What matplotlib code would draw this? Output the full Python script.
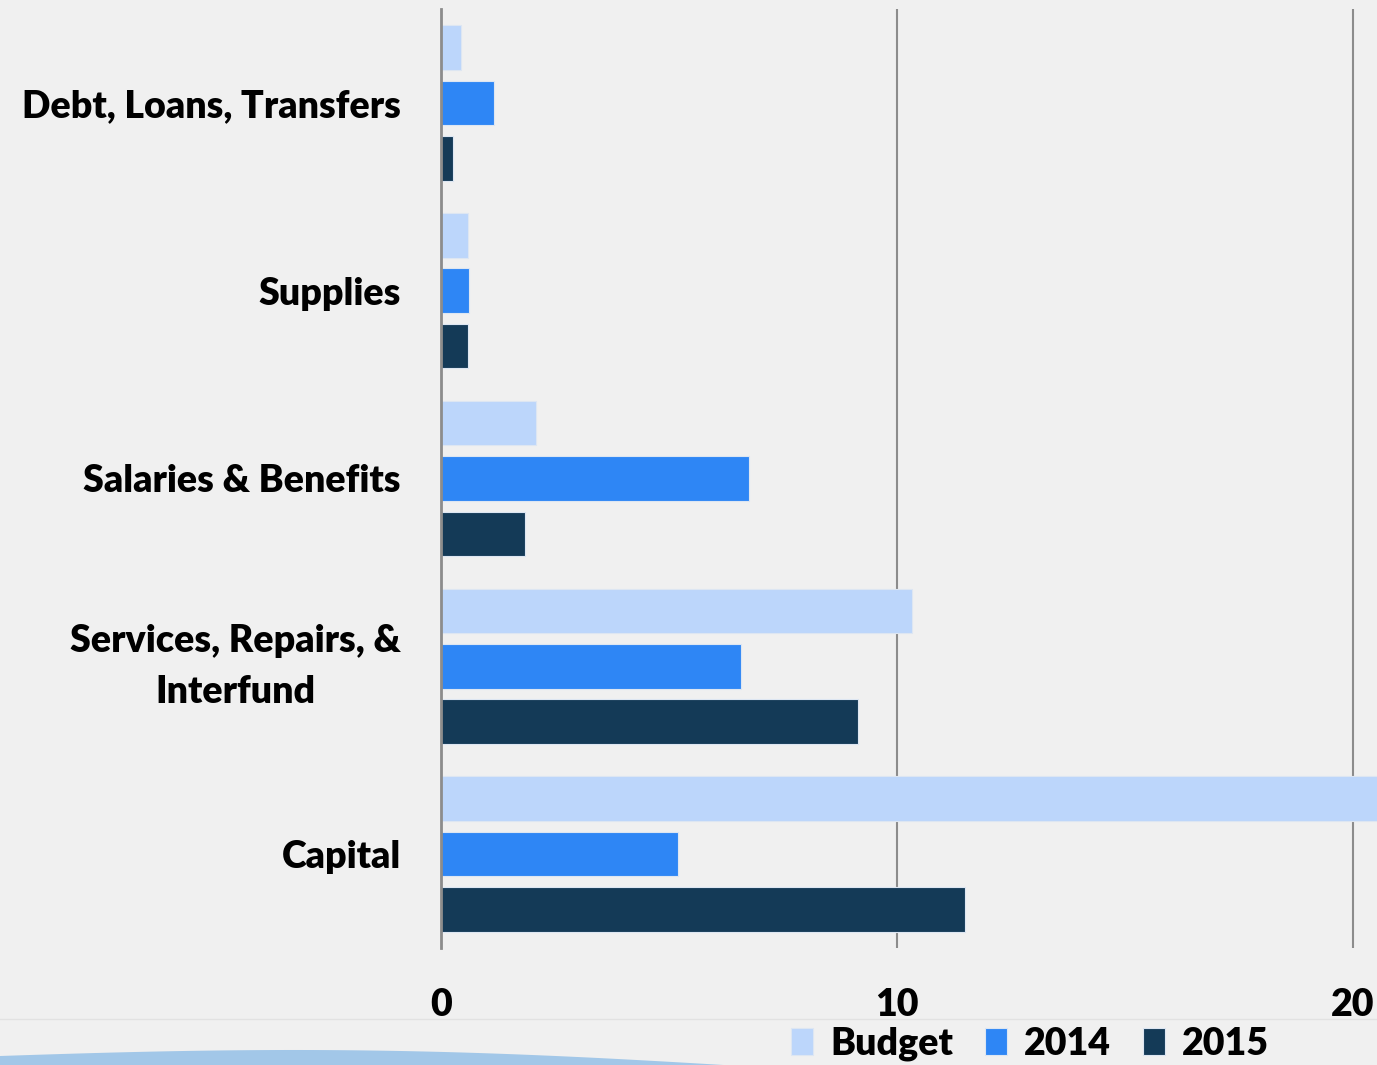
import numpy as np
import matplotlib.pyplot as plt
from matplotlib.patches import Polygon

# categories bottom to top (as drawn on the y axis)
categories = ['Capital', 'Services, Repairs, &\nInterfund', 'Salaries & Benefits',
              'Supplies', 'Debt, Loans, Transfers']
budget = [21.0, 10.33, 2.08, 0.59, 0.44]
y2014 = [5.2, 6.58, 6.75, 0.61, 1.16]
y2015 = [11.49, 9.14, 1.84, 0.59, 0.26]
series_names = ['Budget', '2014', '2015']
colors = ['#bcd6fb', '#2e86f5', '#143a57']
xticks = [0, 10, 20]

plt.rcParams['font.family'] = ['Lato', 'DejaVu Sans']

fs = 27
wt = 'heavy'
bg = '#f0f0f0'
fig = plt.figure(figsize=(13.77, 10.65), dpi=100, facecolor=bg)
ax = fig.add_axes([441 / 1377, 117 / 1065, 1 - 441 / 1377, (948 - 9) / 1065])
ax.set_facecolor(bg)

y = np.arange(len(categories))
step = 0.295
h = 0.237
for vals, off, col, name in zip([budget, y2014, y2015], [step, 0, -step], colors, series_names):
    ax.barh(y + off, vals, height=h, color=col, edgecolor='#dde6f2', linewidth=0.8,
            label=name, zorder=3)

ax.set_xlim(0, 20.53)
ax.set_ylim(-0.5, 4.5)
ax.set_xticks(xticks)
ax.set_xticklabels([str(t) for t in xticks], fontsize=fs, fontweight=wt)
ax.set_yticks(y)
ax.set_yticklabels(categories, fontsize=fs, fontweight=wt, ha='right',
                   multialignment='center', linespacing=1.6)
for lbl in ax.get_yticklabels():
    if '\n' in lbl.get_text():
        lbl.set_va('center')
ax.tick_params(axis='y', length=0, pad=29)
ax.tick_params(axis='x', length=0, pad=29)
ax.grid(axis='x', color='#8c8c8c', linewidth=1.5, zorder=1)
for s in ['top', 'right', 'bottom']:
    ax.spines[s].set_visible(False)
ax.spines['left'].set_color('#8c8c8c')
ax.spines['left'].set_linewidth(2)
ax.spines['left'].set_zorder(4)

# faint divider line and bottom decorative wave
fig.add_artist(plt.Line2D([0, 1], [1 - 1019 / 1065, 1 - 1019 / 1065], color='#e2e2e2',
                          linewidth=1, transform=fig.transFigure))
wx = np.linspace(0, 740, 60)
wy = 1065 - (1056 - 8 * np.sin(np.pi * wx / 740) + 10 * (wx / 740) ** 2)
pts = np.column_stack([np.r_[wx, 740, 0] / 1377, np.r_[wy, 0, 0] / 1065])
fig.add_artist(Polygon(pts, closed=True, transform=fig.transFigure,
                       facecolor='#8fbde6', edgecolor='none', alpha=0.8))

fig.legend(loc='center', bbox_to_anchor=(1030 / 1377, 1 - 1044 / 1065), ncol=3,
           frameon=False, handlelength=0.6, handleheight=0.75,
           handletextpad=0.45, columnspacing=0.85, prop={'weight': wt, 'size': fs})

fig.savefig('out.png', dpi=100, facecolor=bg)
